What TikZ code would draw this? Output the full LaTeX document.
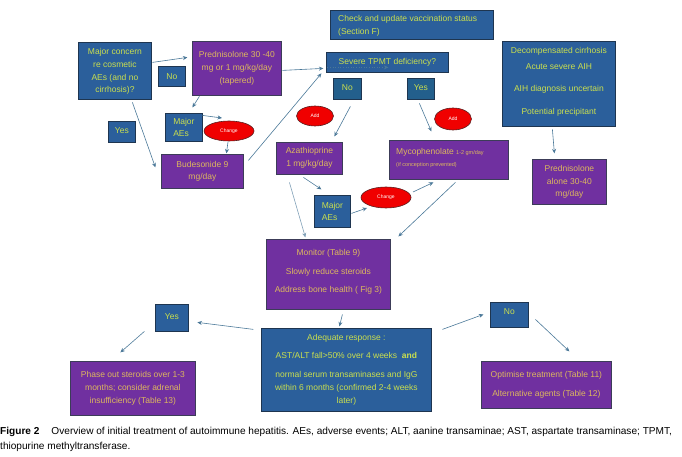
\documentclass[tikz,border=0pt]{standalone}
\usepackage{fontspec}
\setmainfont{Liberation Sans}
\usetikzlibrary{shapes.geometric,arrows.meta}
\definecolor{boxblue}{HTML}{2B5F9B}
\definecolor{boxteal}{HTML}{235F8C}
\definecolor{bluedark}{HTML}{1E3550}
\definecolor{boxpurple}{HTML}{7030A0}
\definecolor{purpdark}{HTML}{3C3C58}
\definecolor{ygreen}{HTML}{CBE04E}
\definecolor{goldtxt}{HTML}{DDB85E}
\definecolor{redfill}{HTML}{F00000}
\definecolor{reddark}{HTML}{5A2020}
\definecolor{arrcol}{HTML}{4A7898}
\newcommand{\boxfont}{\fontsize{8.5}{12.7}\selectfont}
\newcommand{\smallfont}{\fontsize{5.5}{7}\selectfont}
\tikzset{
  box/.style={line width=0.8pt, inner sep=0pt, align=center, font=\boxfont, anchor=north west},
  bbox/.style={box, fill=boxblue, draw=bluedark, text=ygreen},
  tbox/.style={box, fill=boxteal, draw=bluedark, text=ygreen},
  pbox/.style={box, fill=boxpurple, draw=purpdark, text=goldtxt},
  btxt/.style={inner sep=0pt, align=center, font=\boxfont, text=ygreen},
  ptxt/.style={inner sep=0pt, align=center, font=\boxfont, text=goldtxt},
  redell/.style={ellipse, fill=redfill, draw=reddark, line width=0.6pt, text=white, inner sep=0pt, font=\fontsize{5}{6}\selectfont},
  arr/.style={-{Stealth[length=4.5pt,width=4pt]}, draw=arrcol, line width=0.6pt},
  captxt/.style={anchor=base west, inner sep=0pt, font=\fontsize{10.1}{12}\selectfont},
}
\begin{document}
\begin{tikzpicture}[x=1pt,y=-1pt]
\useasboundingbox (0,0) rectangle (682,457);
% boxes
\node[bbox, minimum width=73pt, minimum height=57pt] (mc) at (78,42) {};
\node[btxt] (mct) at ([yshift=-0.8pt]mc.center) {Major concern\\re cosmetic\\AEs (and no\\cirrhosis)?};
\node[bbox, minimum width=27pt, minimum height=20pt] (no1) at (158,66) {};
\node[btxt] (no1t) at (no1.center) {No};
\node[pbox, minimum width=89pt, minimum height=54pt] (pred) at (192,41) {};
\node[ptxt] (predt) at (pred.center) {Prednisolone 30 -40\\mg or 1 mg/kg/day\\(tapered)};
\node[bbox, minimum width=27pt, minimum height=21pt] (yes1) at (108,121) {};
\node[btxt] (yes1t) at ([yshift=1.5pt]yes1.center) {Yes};
\node[bbox, minimum width=37pt, minimum height=28pt, align=left] (mae1) at (165,113) {Major\\AEs};
\node[redell, minimum width=50pt, minimum height=20pt] (ch1) at (229,131) {Change};
\node[pbox, minimum width=82pt, minimum height=34pt] (bud) at (161,154) {Budesonide 9\\mg/day};
\node[bbox, minimum width=163pt, minimum height=29pt] (vac) at (330,10) {};
\node[btxt, align=left, anchor=north west] (vact) at (338,15.5) {Check and update vaccination status\\(Section F)};
\node[bbox, minimum width=122pt, minimum height=20pt] (tpmt) at (326,52) {};
\node[btxt] (tpmtt) at (tpmt.center) {Severe TPMT deficiency?};
\node[tbox, minimum width=28pt, minimum height=21pt] (no2) at (333,78) {};
\node[btxt] (no2t) at ([yshift=1pt]no2.center) {No};
\node[tbox, minimum width=27pt, minimum height=21pt] (yes2) at (407,78) {};
\node[btxt] (yes2t) at ([yshift=1pt]yes2.center) {Yes};
\node[redell, minimum width=37pt, minimum height=20pt] (add1) at (315,116) {Add};
\node[redell, minimum width=37pt, minimum height=22pt] (add2) at (453,119) {Add};
\node[pbox, minimum width=66pt, minimum height=32pt] (aza) at (276,142) {};
\node[ptxt] (azat) at ([yshift=0.5pt]aza.center) {Azathioprine\\1 mg/kg/day};
\node[pbox, minimum width=119pt, minimum height=39pt] (myc) at (389,140) {};
\node[ptxt, align=left, anchor=north west] (myct) at (396,148.5) {Mycophenolate {\smallfont 1-2 gm/day}\\[-0.7pt]{\smallfont (if conception prevented)}};
\node[bbox, minimum width=36pt, minimum height=32pt, align=left] (mae2) at (314,195) {Major\\AEs};
\node[redell, minimum width=50pt, minimum height=21pt] (ch2) at (386,197.5) {Change};
\node[bbox, minimum width=113pt, minimum height=85pt] (dec) at (502,41) {};
\node[btxt] (dect) at ([yshift=2pt]dec.center) {Decompensated cirrhosis\\[3.3pt]Acute severe AIH\\[9.3pt]AIH diagnosis uncertain\\[10.3pt]Potential precipitant};
\node[pbox, minimum width=74pt, minimum height=45pt] (predal) at (532,159) {Prednisolone\\alone 30-40\\mg/day};
\node[pbox, minimum width=124pt, minimum height=70pt] (mon) at (266,239) {};
\node[ptxt] (mont) at ([yshift=2.5pt]mon.center) {Monitor (Table 9)\\[6pt]Slowly reduce steroids\\[5.5pt]Address bone health ( Fig 3)};
\node[bbox, minimum width=170pt, minimum height=83pt] (adq) at (261,328) {Adequate response :\\[5.3pt]AST/ALT fall{\textgreater}50\% over 4 weeks \ \textbf{and}\\[6.3pt]normal serum transaminases and IgG\\within 6 months (confirmed 2-4 weeks\\later)};
\node[bbox, minimum width=33pt, minimum height=27pt] (yes3) at (155,304) {};
\node[btxt] (yes3t) at ([yshift=1.5pt]yes3.center) {Yes};
\node[pbox, minimum width=125pt, minimum height=54pt] (phase) at (70,361) {};
\node[ptxt] (phaset) at (phase.center) {Phase out steroids over 1-3\\months; consider adrenal\\insufficiency (Table 13)};
\node[bbox, minimum width=38pt, minimum height=25pt] (no3) at (490,302) {};
\node[btxt] (no3t) at ([yshift=3.5pt]no3.center) {No};
\node[pbox, minimum width=130pt, minimum height=47pt] (opt) at (481,361) {};
\node[ptxt] (optt) at ([yshift=0.5pt]opt.center) {Optimise treatment (Table 11)\\[6.3pt]Alternative agents (Table 12)};
% connectors
\draw[arr] ([shift={(37.5,-8.5)}]mc.center) -- ([shift={(-49.5,-11)}]pred.center);
\draw[arr] ([shift={(17.5,31.5)}]mc.center) -- ([shift={(-47,-4)}]bud.center);
\draw[arr] ([shift={(-37.5,28)}]pred.center) -- ([shift={(8.5,-20)}]mae1.center);
\draw[arr] ([shift={(18.5,-12)}]mae1.center) -- ([shift={(-7,-13)}]ch1.center);
\draw[arr] ([shift={(-1,11)}]ch1.center) -- ([shift={(24,-18)}]bud.center);
\draw[arr] ([shift={(45.5,2)}]pred.center) -- ([shift={(-64,6)}]tpmt.center);
\draw[arr] ([shift={(46,-11)}]bud.center) -- ([shift={(-66,11)}]tpmt.center);
\draw[arr, dotted, line width=0.5pt] ([shift={(-60,5)}]tpmt.center) -- ([shift={(1,5)}]tpmt.center);
\draw[arr] ([shift={(3,17.5)}]no2.center) -- ([shift={(25,-22)}]aza.center);
\draw[arr] ([shift={(-1.5,14.5)}]yes2.center) -- ([shift={(-17.5,-28.5)}]myc.center);
\draw[arr] ([shift={(-6,19)}]aza.center) -- ([shift={(-11,-22)}]mae2.center);
\draw[arr, draw=arrcol!70] ([shift={(-20,24)}]aza.center) -- ([shift={(-23,-37)}]mon.center);
\draw[arr] ([shift={(19,2)}]mae2.center) -- ([shift={(-19,10.5)}]ch2.center);
\draw[arr] ([shift={(27,-5.5)}]ch2.center) -- ([shift={(-15.5,22.5)}]myc.center);
\draw[arr] ([shift={(6.5,22.5)}]myc.center) -- ([shift={(70,-38)}]mon.center);
\draw[arr] ([shift={(-6.5,45.5)}]dec.center) -- ([shift={(-15,-28.5)}]predal.center);
\draw[arr] ([shift={(14,40)}]mon.center) -- ([shift={(-7,-43.5)}]adq.center);
\draw[arr] ([shift={(-93,-40.5)}]adq.center) -- ([shift={(25.5,4.5)}]yes3.center);
\draw[arr] ([shift={(-27.5,13.5)}]yes3.center) -- ([shift={(-12.5,-36)}]phase.center);
\draw[arr] ([shift={(96,-40.5)}]adq.center) -- ([shift={(-26,-0.5)}]no3.center);
\draw[arr] ([shift={(26,4.5)}]no3.center) -- ([shift={(23,-33.5)}]opt.center);
% caption
\node[captxt] (cap1) at (0,434) {\textbf{Figure 2}\hspace{12pt}Overview of initial treatment of autoimmune hepatitis. AEs, adverse events; ALT, aanine transaminae; AST, aspartate transaminase; TPMT,};
\node[captxt] (cap2) at (0,449) {thiopurine methyltransferase.};
\end{tikzpicture}
\end{document}
